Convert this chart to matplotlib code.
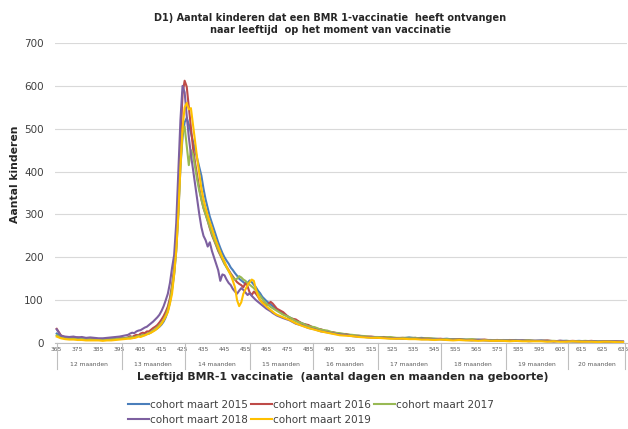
import matplotlib
matplotlib.use("Agg")
import matplotlib.pyplot as plt
import matplotlib.transforms as mtransforms

# ---------------- data ----------------
days = list(range(365, 400, 2)) + list(range(400, 471)) + list(range(473, 636, 3))

cohort_2015 = [22, 15, 12, 13, 11, 12, 10, 11, 9, 10, 9, 8, 9, 8, 9, 10, 11, 12,
               14, 12, 15, 14, 17, 18, 17, 20, 22, 22, 25, 28, 31, 34, 38, 43, 50, 60,
               75, 95, 125, 160, 215, 300, 410, 480, 515, 525,
               510, 490, 470, 450, 430, 410, 390, 360, 335, 315,
               295, 280, 265, 250, 235, 222, 210, 200, 192, 185,
               176, 170, 163, 157, 150, 146, 142, 138, 140, 146,
               142, 136, 130, 122, 116, 108, 103, 98, 94, 90,
               86, 82, 78,
               68, 60, 52, 46, 40, 35, 30, 27, 23, 21, 19, 17, 15, 14, 13, 13, 12, 12, 11, 11,
               13, 11, 12, 10, 10, 9, 10, 8, 9, 8, 7, 8, 7, 6, 7, 6, 6, 7, 5, 6,
               5, 6, 5, 4, 5, 5, 4, 5, 4, 4, 3, 4, 4, 3, 3]

cohort_2016 = [33, 18, 13, 12, 11, 13, 11, 10, 9, 10, 8, 9, 8, 9, 10, 11, 11, 13,
               16, 14, 17, 19, 18, 22, 24, 23, 27, 27, 31, 35, 38, 42, 48, 55, 63, 73,
               85, 105, 135, 175, 240, 340, 470, 580, 612, 598,
               550, 500, 455, 420, 390, 360, 335, 315, 300, 285,
               268, 252, 240, 228, 215, 205, 195, 185, 178, 170,
               162, 155, 148, 142, 138, 135, 130, 140, 132, 118,
               112, 120, 115, 108, 100, 95, 92, 88, 92, 96,
               92, 86, 80,
               72, 58, 55, 45, 42, 34, 32, 26, 25, 21, 21, 17, 17, 15, 15, 13, 14, 12, 11, 12,
               11, 12, 10, 11, 9, 10, 8, 9, 9, 7, 8, 7, 8, 6, 7, 6, 7, 5, 6, 6,
               5, 5, 6, 4, 5, 4, 5, 4, 4, 5, 3, 4, 3, 4, 3]

cohort_2017 = [18, 13, 11, 12, 10, 11, 9, 10, 9, 8, 8, 7, 8, 9, 9, 10, 11, 12,
               13, 14, 12, 15, 17, 16, 19, 18, 21, 23, 26, 29, 33, 37, 42, 47, 55, 65,
               78, 98, 128, 165, 225, 310, 420, 490, 505, 460,
               415, 450, 440, 410, 380, 355, 335, 315, 300, 285,
               270, 255, 242, 230, 218, 207, 196, 185, 176, 168,
               160, 152, 148, 150, 156, 153, 148, 145, 140, 136,
               132, 128, 122, 116, 110, 103, 97, 92, 88, 84,
               81, 78, 75,
               66, 60, 51, 46, 39, 37, 31, 29, 24, 23, 20, 19, 17, 16, 14, 14, 13, 14, 12, 12,
               12, 12, 10, 11, 10, 9, 9, 9, 8, 8, 9, 7, 7, 7, 6, 7, 6, 5, 6, 6,
               5, 5, 5, 5, 4, 5, 4, 4, 5, 4, 4, 3, 4, 3, 3]

cohort_2018 = [32, 17, 15, 14, 15, 13, 14, 12, 13, 12, 11, 11, 12, 13, 14, 15, 17, 19,
               22, 24, 23, 27, 29, 30, 33, 36, 38, 42, 46, 50, 55, 60, 66, 75, 86, 100,
               115, 140, 175, 205, 280, 400, 520, 600, 585, 530,
               480, 440, 405, 370, 335, 300, 270, 250, 240, 225,
               235, 215, 200, 185, 170, 145, 160, 158, 148, 140,
               135, 126, 120, 115, 122, 128, 124, 118, 112, 116,
               110, 105, 100, 96, 92, 88, 84, 80, 77, 74,
               70, 67, 64,
               58, 53, 45, 41, 35, 32, 27, 25, 22, 20, 19, 16, 15, 14, 13, 12, 12, 11, 11, 10,
               10, 10, 9, 9, 8, 9, 7, 8, 7, 7, 6, 7, 6, 6, 5, 6, 5, 5, 6, 4,
               5, 5, 4, 4, 5, 4, 4, 3, 4, 4, 3, 3, 4, 3, 3]

cohort_2019 = [15, 11, 9, 8, 8, 7, 7, 6, 6, 6, 6, 5, 6, 6, 7, 8, 9, 10,
               10, 11, 12, 13, 15, 14, 16, 18, 20, 22, 24, 27, 30, 34, 39, 45, 53, 62,
               72, 92, 115, 160, 215, 300, 410, 500, 550, 560,
               545, 548, 510, 470, 430, 395, 360, 335, 315, 298,
               282, 268, 252, 238, 225, 212, 200, 190, 178, 168,
               158, 145, 130, 100, 86, 95, 115, 125, 135, 142,
               148, 145, 125, 110, 100, 94, 90, 85, 81, 77,
               73, 69, 66,
               60, 54, 46, 40, 35, 31, 27, 24, 21, 18, 17, 16, 14, 13, 12, 12, 11, 10, 10, 10,
               9, 9, 8, 8, 7, 8, 7, 6, 7, 6, 6, 5, 6, 5, 5, 5, 4, 5, 4, 4,
               4, 4, 3, 4, 3, 3, 4, 3, 3, 3, 2, 3, 3, 2, 2]

series_names = ["cohort maart 2015", "cohort maart 2016", "cohort maart 2017",
                "cohort maart 2018", "cohort maart 2019"]
series_values = [cohort_2015, cohort_2016, cohort_2017, cohort_2018, cohort_2019]
series_colors = ["#4a7ebb", "#be4b48", "#98b954", "#7d60a0", "#ffc000"]

tick_days = list(range(365, 636, 10))
month_bounds = [365, 396, 426, 457, 487, 518, 548, 579, 609, 636]
month_labels = ["12 maanden", "13 maanden", "14 maanden", "15 maanden", "16 maanden",
                "17 maanden", "18 maanden", "19 maanden", "20 maanden"]
y_ticks = [0, 100, 200, 300, 400, 500, 600, 700]

title_text = ("D1) Aantal kinderen dat een BMR 1-vaccinatie  heeft ontvangen\n"
              "naar leeftijd  op het moment van vaccinatie")
xlabel_text = "Leeftijd BMR-1 vaccinatie  (aantal dagen en maanden na geboorte)"
ylabel_text = "Aantal kinderen"

# ---------------- figure ----------------
W, H = 628, 429
fig = plt.figure(figsize=(W / 100, H / 100), dpi=100)
fig.patch.set_facecolor("white")
ax = fig.add_axes([55 / W, 1 - 343 / H, (627 - 55) / W, 300 / H])

handles = []
for name, vals, col in zip(series_names, series_values, series_colors):
    h, = ax.plot(days, vals, color=col, lw=1.5, label=name, solid_joinstyle="round")
    handles.append(h)

ax.set_xlim(364.2, 636.9)
ax.set_ylim(0, 700)
ax.set_yticks(y_ticks)
ax.set_yticklabels([str(v) for v in y_ticks], fontsize=7.5, color="#404040")
ax.tick_params(axis="y", length=0, pad=8)
ax.grid(axis="y", color="#d9d9d9", lw=0.8)
ax.set_axisbelow(True)
for s in ["top", "right", "left"]:
    ax.spines[s].set_visible(False)
ax.spines["bottom"].set_color("#bfbfbf")
ax.spines["bottom"].set_linewidth(0.8)

ax.set_xticks(tick_days)
ax.set_xticklabels([str(d) for d in tick_days], fontsize=4.3, color="#595959")
ax.tick_params(axis="x", length=0, pad=3)

trans = mtransforms.blended_transform_factory(ax.transData, ax.transAxes)
for b in month_bounds:
    ax.plot([b, b], [0, -0.085], transform=trans, color="#bfbfbf", lw=0.8, clip_on=False)
for i, lab in enumerate(month_labels):
    c = (month_bounds[i] + month_bounds[i + 1]) / 2
    ax.text(c, -0.07, lab, transform=trans, ha="center", va="center",
            fontsize=4.3, color="#595959")

fig.text(330 / W, 1 - 24 / H, title_text, ha="center", va="center", fontsize=7,
         fontweight="bold", color="#262626", linespacing=1.25)
fig.text(343 / W, 1 - 377 / H, xlabel_text, ha="center", va="center", fontsize=7.8,
         fontweight="bold", color="#262626")
fig.text(15 / W, 1 - 174 / H, ylabel_text, ha="center", va="center", rotation=90,
         fontsize=7.8, fontweight="bold", color="#262626")

order = [0, 3, 1, 4, 2]
leg = fig.legend([handles[i] for i in order], [series_names[i] for i in order],
                 loc="upper left", bbox_to_anchor=(128 / W, 1 - 400 / H), ncol=3,
                 frameon=False, fontsize=7.5, handlelength=2.0, handletextpad=0.1,
                 columnspacing=0.3, labelspacing=0.45, borderpad=0, borderaxespad=0)
for t in leg.get_texts():
    t.set_color("#404040")

fig.savefig("out.png", dpi=100, facecolor="white")
